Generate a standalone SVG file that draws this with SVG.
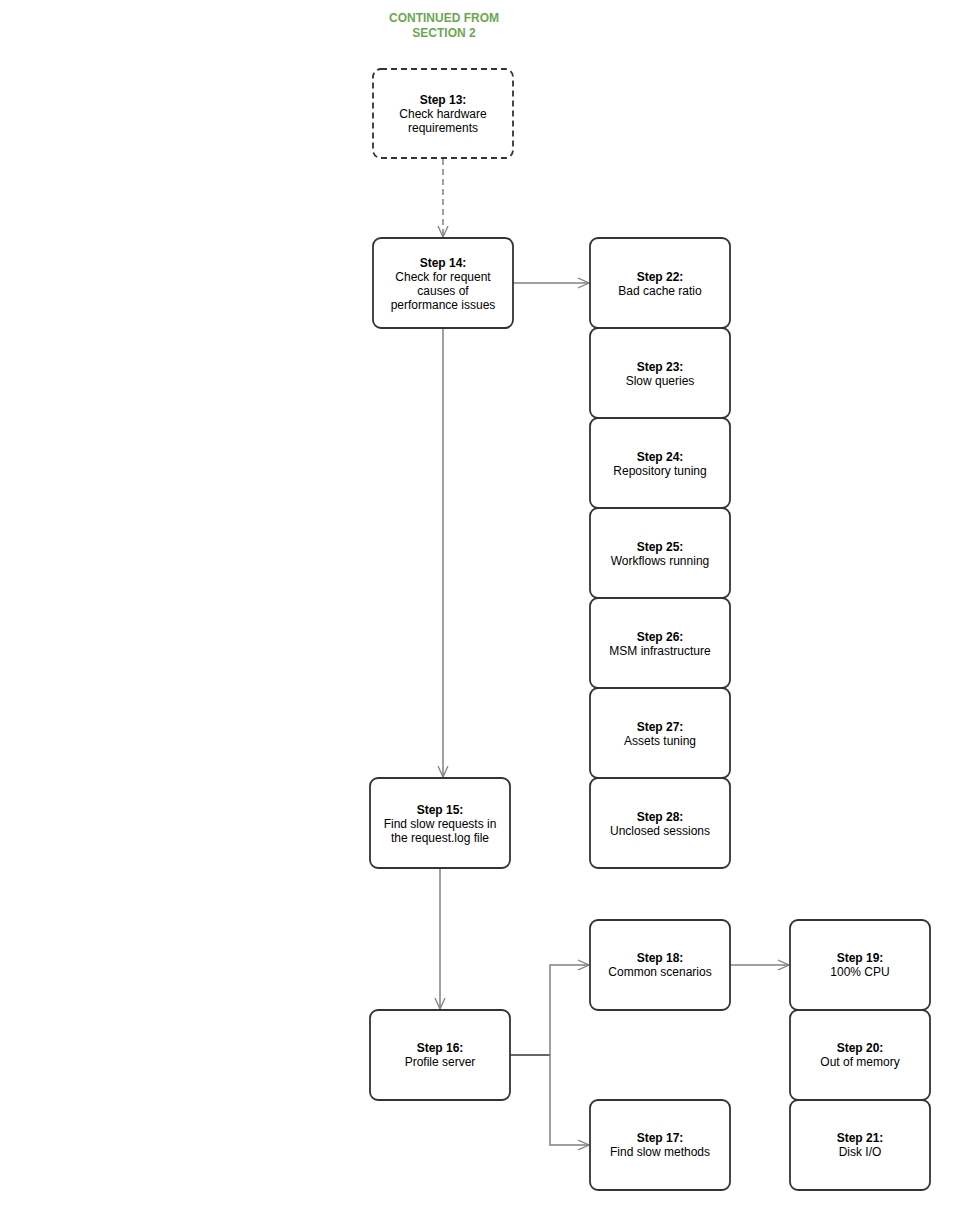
<svg xmlns="http://www.w3.org/2000/svg" width="956" height="1210" viewBox="0 0 956 1210">
<style>
.box{fill:#fff;stroke:#333;stroke-width:1.8}
.dash{stroke-dasharray:6,4}
.t{font-family:"Liberation Sans",Arial,sans-serif;font-size:12px;fill:#000;text-anchor:middle}
.b{font-weight:bold}
.title{font-family:"Liberation Sans",Arial,sans-serif;font-size:12px;font-weight:bold;fill:#6aa84f;text-anchor:middle}
.c{fill:none;stroke:#808080;stroke-width:1.5}
.cd{fill:none;stroke:#333;stroke-width:1.5}
</style>
<defs>
<marker id="arr" markerWidth="12" markerHeight="12" refX="11" refY="5" orient="auto" markerUnits="userSpaceOnUse" viewBox="0 0 12 10">
<path d="M0,0 L11,5 L0,10" fill="none" stroke="#808080" stroke-width="1.3"/>
</marker>
</defs>
<rect width="956" height="1210" fill="#fff"/>
<text class="title" x="444" y="22">CONTINUED FROM</text>
<text class="title" x="444" y="37">SECTION 2</text>
<g id="connectors">
<path class="c dash" d="M443,159 V237" marker-end="url(#arr)"/>
<path class="c" d="M513,283 H589" marker-end="url(#arr)"/>
<path class="c" d="M443,328 V777" marker-end="url(#arr)"/>
<path class="c" d="M440,868 V1009" marker-end="url(#arr)"/>
<path class="cd" d="M510,1055 H550"/>
<path class="c" d="M550,1055 V965 H589" marker-end="url(#arr)"/>
<path class="c" d="M550,1055 V1145 H589" marker-end="url(#arr)"/>
<path class="c" d="M730,965 H789" marker-end="url(#arr)"/>
</g>
<g id="step13"><rect class="box dash" x="373" y="69" width="140" height="89" rx="8"/><text class="t b" x="443" y="104">Step 13:</text><text class="t" x="443" y="118">Check hardware</text><text class="t" x="443" y="132">requirements</text></g>
<g id="step14"><rect class="box" x="373" y="238" width="140" height="90" rx="8"/><text class="t b" x="443" y="267">Step 14:</text><text class="t" x="443" y="281">Check for requent</text><text class="t" x="443" y="295">causes of</text><text class="t" x="443" y="309">performance issues</text></g>
<g id="step22"><rect class="box" x="590" y="238" width="140" height="90" rx="8"/><text class="t b" x="660" y="281">Step 22:</text><text class="t" x="660" y="295">Bad cache ratio</text></g>
<g id="step23"><rect class="box" x="590" y="328" width="140" height="90" rx="8"/><text class="t b" x="660" y="371">Step 23:</text><text class="t" x="660" y="385">Slow queries</text></g>
<g id="step24"><rect class="box" x="590" y="418" width="140" height="90" rx="8"/><text class="t b" x="660" y="461">Step 24:</text><text class="t" x="660" y="475">Repository tuning</text></g>
<g id="step25"><rect class="box" x="590" y="508" width="140" height="90" rx="8"/><text class="t b" x="660" y="551">Step 25:</text><text class="t" x="660" y="565">Workflows running</text></g>
<g id="step26"><rect class="box" x="590" y="598" width="140" height="90" rx="8"/><text class="t b" x="660" y="641">Step 26:</text><text class="t" x="660" y="655">MSM infrastructure</text></g>
<g id="step27"><rect class="box" x="590" y="688" width="140" height="90" rx="8"/><text class="t b" x="660" y="731">Step 27:</text><text class="t" x="660" y="745">Assets tuning</text></g>
<g id="step28"><rect class="box" x="590" y="778" width="140" height="90" rx="8"/><text class="t b" x="660" y="821">Step 28:</text><text class="t" x="660" y="835">Unclosed sessions</text></g>
<g id="step15"><rect class="box" x="370" y="778" width="140" height="90" rx="8"/><text class="t b" x="440" y="814">Step 15:</text><text class="t" x="440" y="828">Find slow requests in</text><text class="t" x="440" y="842">the request.log file</text></g>
<g id="step16"><rect class="box" x="370" y="1010" width="140" height="90" rx="8"/><text class="t b" x="440" y="1052">Step 16:</text><text class="t" x="440" y="1066">Profile server</text></g>
<g id="step18"><rect class="box" x="590" y="920" width="140" height="90" rx="8"/><text class="t b" x="660" y="962">Step 18:</text><text class="t" x="660" y="976">Common scenarios</text></g>
<g id="step17"><rect class="box" x="590" y="1100" width="140" height="90" rx="8"/><text class="t b" x="660" y="1142">Step 17:</text><text class="t" x="660" y="1156">Find slow methods</text></g>
<g id="step19"><rect class="box" x="790" y="920" width="140" height="90" rx="8"/><text class="t b" x="860" y="962">Step 19:</text><text class="t" x="860" y="976">100% CPU</text></g>
<g id="step20"><rect class="box" x="790" y="1010" width="140" height="90" rx="8"/><text class="t b" x="860" y="1052">Step 20:</text><text class="t" x="860" y="1066">Out of memory</text></g>
<g id="step21"><rect class="box" x="790" y="1100" width="140" height="90" rx="8"/><text class="t b" x="860" y="1142">Step 21:</text><text class="t" x="860" y="1156">Disk I/O</text></g>
</svg>
